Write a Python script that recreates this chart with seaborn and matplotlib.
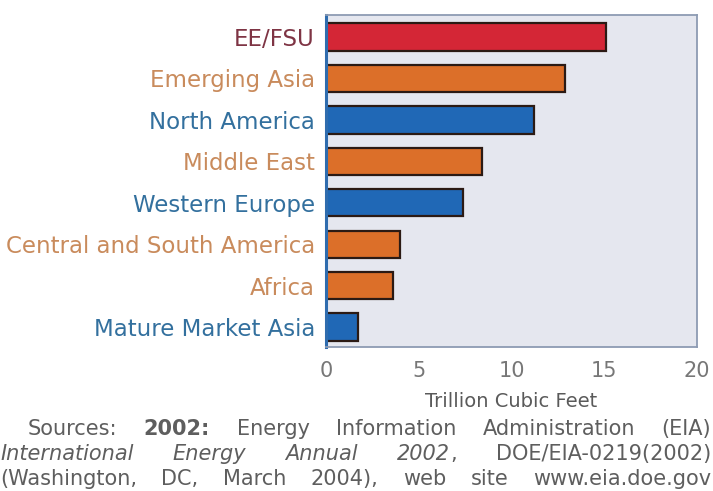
import matplotlib
matplotlib.use("Agg")
import matplotlib.pyplot as plt
import seaborn as sns
import pandas as pd

# Natural gas consumption increase by region, 2002-2025
regions = ["EE/FSU", "Emerging Asia", "North America", "Middle East",
           "Western Europe", "Central and South America", "Africa",
           "Mature Market Asia"]
increase_tcf = [15.1, 12.9, 11.2, 8.4, 7.4, 4.0, 3.6, 1.7]
region_group = ["EE/FSU", "Emerging", "Mature", "Emerging", "Mature",
                "Emerging", "Emerging", "Mature"]
x_ticks = [0, 5, 10, 15, 20]
x_label = "Trillion Cubic Feet"

bar_colors = {"EE/FSU": "#d42636", "Emerging": "#dc6f29", "Mature": "#2068b6"}
label_colors = {"EE/FSU": "#7e3444", "Emerging": "#c98b5c", "Mature": "#33709e"}

sns.set_theme(style="white")
plt.rcParams["font.family"] = ["DejaVu Sans"]

df = pd.DataFrame({"region": regions, "value": increase_tcf, "group": region_group})

W, H = 713, 491
fig = plt.figure(figsize=(W / 100, H / 100), dpi=100)
ax = fig.add_axes([326 / W, 1 - 347 / H, 371 / W, 332 / H])
ax.set_facecolor("#e5e7ef")

sns.barplot(data=df, x="value", y="region", hue="region",
            palette=[bar_colors[g] for g in region_group], saturation=1,
            width=0.66, edgecolor="#2b1a14", linewidth=1.6,
            legend=False, ax=ax)

ax.set_xlim(0, 20)
ax.set_ylim(7.48, -0.53)
ax.set_xticks(x_ticks)
ax.set_xticklabels([str(t) for t in x_ticks])
ax.set_ylabel("")
ax.set_xlabel(x_label, fontsize=14, color="#5a5a5a", labelpad=8)

ax.tick_params(axis="x", direction="out", length=4, width=1.2,
               color="#8d9bb0", labelsize=15, labelcolor="#777777", pad=6)
ax.tick_params(axis="y", length=0, labelsize=16.5, pad=8)
for lbl, g in zip(ax.get_yticklabels(), region_group):
    lbl.set_color(label_colors[g])

for side in ["top", "right", "bottom"]:
    ax.spines[side].set_color("#8d9bb3")
    ax.spines[side].set_linewidth(1.3)
ax.spines["left"].set_color("#2f6cae")
ax.spines["left"].set_linewidth(2.2)

# Justified source note under the chart
source_lines = [
    (28, 429, [("Sources:", "normal", "normal"), ("2002:", "bold", "normal"),
               ("Energy", "normal", "normal"), ("Information", "normal", "normal"),
               ("Administration", "normal", "normal"), ("(EIA)", "normal", "normal")]),
    (0, 454, [("International", "normal", "italic"), ("Energy", "normal", "italic"),
              ("Annual", "normal", "italic"), ("2002", "normal", "italic"),
              (",", "normal", "normal"), ("DOE/EIA-0219(2002)", "normal", "normal")]),
    (0, 479, [("(Washington,", "normal", "normal"), ("DC,", "normal", "normal"),
              ("March", "normal", "normal"), ("2004),", "normal", "normal"),
              ("web", "normal", "normal"), ("site", "normal", "normal"),
              ("www.eia.doe.gov", "normal", "normal")]),
]
right_edge = 711
renderer = fig.canvas.get_renderer()
for x0, y, words in source_lines:
    texts = []
    for w, weight, style in words:
        t = fig.text(0, 1 - y / H, w, fontsize=15, color="#5e5e5e",
                     fontweight=weight, fontstyle=style, va="center", ha="left")
        texts.append(t)
    widths = [t.get_window_extent(renderer).width for t in texts]
    # a comma glued to the previous word takes no gap
    glue = [w == "," for w, _, _ in words]
    n_gaps = sum(1 for i in range(1, len(words)) if not glue[i])
    gap = (right_edge - x0 - sum(widths)) / n_gaps
    x = x0
    for i, t in enumerate(texts):
        if i > 0 and not glue[i]:
            x += gap
        t.set_x(x / W)
        x += widths[i]

fig.savefig("out.png", dpi=100, facecolor="white")
